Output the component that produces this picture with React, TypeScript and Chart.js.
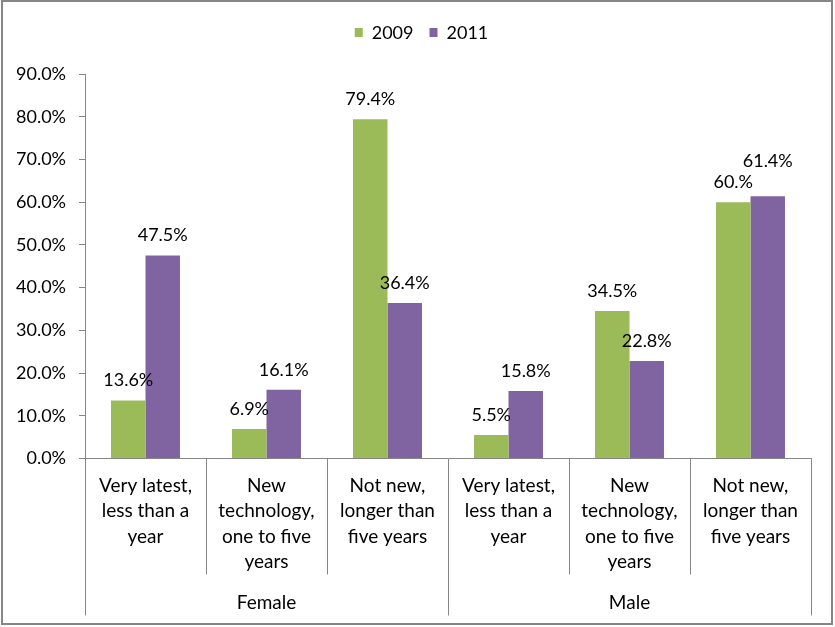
import { useEffect, useRef } from 'react';
import { Chart, registerables } from 'chart.js';

Chart.register(...registerables);

const seriesNames = ['2009', '2011'];
const seriesColors = ['#9BBB59', '#8064A2'];
const values2009 = [13.6, 6.9, 79.4, 5.5, 34.5, 60.0];
const values2011 = [47.5, 16.1, 36.4, 15.8, 22.8, 61.4];
const labels2009 = ['13.6%', '6.9%', '79.4%', '5.5%', '34.5%', '60.%'];
const labels2011 = ['47.5%', '16.1%', '36.4%', '15.8%', '22.8%', '61.4%'];
const categoryLines = [
  ['Very latest,', 'less than a', 'year'],
  ['New', 'technology,', 'one to five', 'years'],
  ['Not new,', 'longer than', 'five years'],
  ['Very latest,', 'less than a', 'year'],
  ['New', 'technology,', 'one to five', 'years'],
  ['Not new,', 'longer than', 'five years'],
];
const groups = ['Female', 'Male'];
const groupSize = 3;

const FONT = 'Lato, "Open Sans", sans-serif';
const AXIS = '#868686';

const excelAxisPlugin = {
  id: 'excelAxis',
  afterDraw(chart: Chart) {
    const { ctx, scales } = chart;
    const x = scales.x;
    const bottom = chart.chartArea.bottom;
    ctx.save();
    ctx.fillStyle = '#000';
    ctx.font = `19px ${FONT}`;
    ctx.textAlign = 'center';
    ctx.textBaseline = 'middle';
    categoryLines.forEach((lines, i) => {
      const cx = x.getPixelForValue(i);
      lines.forEach((line, j) => {
        ctx.fillText(line, cx, bottom + 27 + j * 25.5);
      });
    });
    ctx.strokeStyle = AXIS;
    ctx.lineWidth = 1;
    for (let g = 0; g <= groups.length; g++) {
      const px = Math.round(x.getPixelForValue(g * groupSize - 0.5)) + 0.5;
      ctx.beginPath();
      ctx.moveTo(px, bottom);
      ctx.lineTo(px, bottom + 157);
      ctx.stroke();
    }
    groups.forEach((name, g) => {
      const cx = x.getPixelForValue(g * groupSize + (groupSize - 1) / 2);
      ctx.fillText(name, cx, bottom + 144);
    });
    ctx.restore();
  },
};

const barLabelPlugin = {
  id: 'barLabels',
  afterDatasetsDraw(chart: Chart) {
    const { ctx } = chart;
    const texts = [labels2009, labels2011];
    const lift: Record<string, number> = { '1-5': 15 };
    ctx.save();
    ctx.fillStyle = '#000';
    ctx.font = `18px ${FONT}`;
    ctx.textAlign = 'center';
    ctx.textBaseline = 'middle';
    chart.data.datasets.forEach((_, d) => {
      chart.getDatasetMeta(d).data.forEach((el: any, i: number) => {
        const extra = lift[`${d}-${i}`] || 0;
        ctx.fillText(texts[d][i], el.x, el.y - 20 - extra);
      });
    });
    ctx.restore();
  },
};

const legendPlugin = {
  id: 'topLegend',
  afterDraw(chart: Chart) {
    const { ctx } = chart;
    ctx.save();
    ctx.font = `18px ${FONT}`;
    ctx.textBaseline = 'middle';
    ctx.textAlign = 'left';
    const box = 8;
    const gap = 9;
    const spacing = 16;
    const widths = seriesNames.map((n) => box + gap + ctx.measureText(n).width);
    const total = widths.reduce((a, b) => a + b, 0) + spacing * (widths.length - 1);
    let px = chart.width / 2 - total / 2 + 4;
    const cy = 33;
    seriesNames.forEach((n, i) => {
      ctx.fillStyle = seriesColors[i];
      ctx.fillRect(px, cy - 5, box, 9);
      ctx.fillStyle = '#000';
      ctx.fillText(n, px + box + gap, cy);
      px += widths[i] + spacing;
    });
    ctx.restore();
  },
};

export default function App() {
  const canvasRef = useRef<HTMLCanvasElement>(null);
  const chartRef = useRef<Chart | null>(null);

  useEffect(() => {
    document.body.style.margin = '0';
    if (!canvasRef.current) return;
    if (chartRef.current) chartRef.current.destroy();

    chartRef.current = new Chart(canvasRef.current, {
      type: 'bar',
      data: {
        labels: categoryLines.map((l) => l.join(' ')),
        datasets: [
          {
            label: seriesNames[0],
            data: values2009,
            backgroundColor: seriesColors[0],
            categoryPercentage: 0.57,
            barPercentage: 1,
          },
          {
            label: seriesNames[1],
            data: values2011,
            backgroundColor: seriesColors[1],
            categoryPercentage: 0.57,
            barPercentage: 1,
          },
        ],
      },
      options: {
        animation: false,
        responsive: true,
        maintainAspectRatio: false,
        layout: { padding: { top: 74, right: 24, left: 0, bottom: 0 } },
        plugins: {
          legend: { display: false },
          tooltip: { enabled: false },
        },
        scales: {
          x: {
            grid: {
              offset: true,
              drawOnChartArea: false,
              tickLength: 116,
              color: AXIS,
            },
            border: { color: AXIS },
            ticks: { display: false },
            afterFit: (scale: any) => {
              scale.height = 168.5;
            },
          },
          y: {
            min: 0,
            max: 90,
            ticks: {
              stepSize: 10,
              padding: 13,
              color: '#000',
              font: { family: FONT, size: 18 },
              callback: (v: any) => `${Number(v).toFixed(1)}%`,
            },
            grid: {
              drawOnChartArea: false,
              tickLength: 6,
              color: AXIS,
            },
            border: { color: AXIS },
            afterFit: (scale: any) => {
              scale.width = 85;
            },
          },
        },
      },
      plugins: [excelAxisPlugin, barLabelPlugin, legendPlugin],
    });

    return () => {
      if (chartRef.current) {
        chartRef.current.destroy();
        chartRef.current = null;
      }
    };
  }, []);

  return (
    <div style={{
      position: 'relative',
      width: '835px',
      height: '627px',
      background: '#fff',
    }}>
      <canvas ref={canvasRef} />
      <div style={{
        position: 'absolute',
        left: '1px',
        top: '0px',
        width: '832px',
        height: '625px',
        boxSizing: 'border-box',
        border: '2px solid #868686',
        pointerEvents: 'none',
      }} />
    </div>
  );
}
